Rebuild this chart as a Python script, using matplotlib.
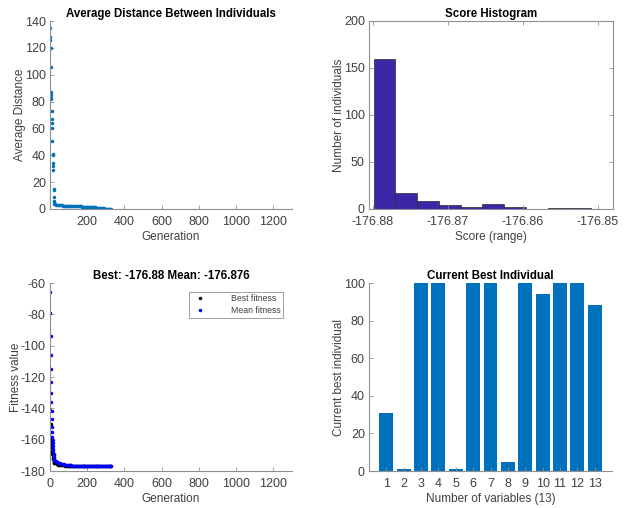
import numpy as np
import matplotlib
matplotlib.use('Agg')
import matplotlib.pyplot as plt

plt.rcParams['font.family'] = ['Liberation Sans', 'DejaVu Sans']
plt.rcParams['axes.unicode_minus'] = False

# --- Average distance between individuals ---
dist_gen_early = list(range(1, 26))
dist_early = [135, 128, 126, 120, 106, 87, 85, 83, 82, 73, 67, 64, 60, 51, 41,
              40, 34, 32, 29, 15, 14, 9, 6, 5, 4]
dist_gen_tail = list(range(30, 331, 5))
dist_tail = [3.5, 3.3, 3.1, 3.0, 2.9, 2.8, 2.8, 2.7, 2.6, 2.6,
             2.5, 2.5, 2.4, 2.4, 2.4, 2.3, 2.3, 2.3, 2.2, 2.2,
             2.2, 2.1, 2.1, 2.0, 2.0, 2.0, 1.9, 1.9, 1.9, 1.8,
             1.8, 1.8, 1.7, 1.7, 1.7, 1.6, 1.6, 1.5, 1.5, 1.4,
             1.4, 1.3, 1.2, 1.2, 1.1, 1.0, 0.9, 0.8, 0.7, 0.6,
             0.5, 0.4, 0.4, 0.3, 0.3, 0.2, 0.2, 0.1, 0.1, 0.1, 0.0]

# --- Score histogram ---
score_edges = [-176.8799, -176.8770, -176.8741, -176.8712, -176.8683, -176.8654,
               -176.8625, -176.8596, -176.8567, -176.8538, -176.8509]
score_counts = [160, 17, 8, 4, 2, 5, 2, 0, 1, 1]

# --- Fitness ---
fit_gen_early = list(range(1, 26))
mean_early = [-66, -79, -94, -106, -115, -123, -130, -136, -142, -147, -152, -155,
              -158, -160, -162, -164, -166, -167.5, -169, -170, -171, -172,
              -172.5, -173, -173.3]
best_early = [-130, -141, -150, -155, -158, -160, -161, -162.5, -164, -165.5, -167,
              -168, -169, -170, -170.5, -171.5, -172, -172.5, -173, -173.5, -174,
              -174.3, -174.6, -174.8, -175]
fit_gen_tail = list(range(30, 331, 5))
mean_tail = [-173.6, -174.0, -174.3, -174.6, -174.9, -175.1, -175.3, -175.5, -175.6, -175.8,
             -175.9, -176.0, -176.1, -176.2, -176.3, -176.3, -176.4, -176.4, -176.5, -176.5,
             -176.6, -176.6, -176.6, -176.7, -176.7, -176.7, -176.7, -176.75, -176.75, -176.78,
             -176.78, -176.8, -176.8, -176.8, -176.81, -176.81, -176.82, -176.82, -176.83, -176.83,
             -176.84, -176.84, -176.84, -176.85, -176.85, -176.85, -176.86, -176.86, -176.86, -176.86,
             -176.87, -176.87, -176.87, -176.87, -176.87, -176.875, -176.875, -176.875, -176.876, -176.876, -176.876]
best_tail = [-175.2, -175.5, -175.7, -175.9, -176.0, -176.1, -176.2, -176.3, -176.4, -176.4,
             -176.5, -176.5, -176.6, -176.6, -176.6, -176.7, -176.7, -176.7, -176.7, -176.75,
             -176.75, -176.78, -176.78, -176.8, -176.8, -176.8, -176.81, -176.82, -176.82, -176.83,
             -176.83, -176.84, -176.84, -176.85, -176.85, -176.85, -176.86, -176.86, -176.86, -176.86,
             -176.87, -176.87, -176.87, -176.87, -176.87, -176.875, -176.875, -176.875, -176.878, -176.878,
             -176.878, -176.879, -176.879, -176.879, -176.88, -176.88, -176.88, -176.88, -176.88, -176.88, -176.88]

# --- Current best individual ---
var_idx = list(range(1, 14))
best_indiv = [31, 1, 100, 100, 1, 100, 100, 5, 100, 94, 100, 100, 88.5]

txt = '#404040'
spine = '#909090'
W, H = 631, 508
TICK = 9
LAB = 8.5
TITLE = 8.3


def rect(l, r, t, b):
    return [l / W, 1 - b / H, (r - l) / W, (b - t) / H]


def style(ax, box=False):
    for s in ['left', 'bottom', 'top', 'right']:
        ax.spines[s].set_color(spine)
        ax.spines[s].set_linewidth(0.8)
    if not box:
        ax.spines['top'].set_visible(False)
        ax.spines['right'].set_visible(False)
    ax.tick_params(direction='in', length=3, width=0.6, colors=spine,
                   labelcolor=txt, labelsize=TICK, top=box, right=box)
    ax.tick_params(axis='x', pad=5)
    ax.tick_params(axis='y', pad=3)


def labels(ax, title, xl, yl):
    ax.set_title(title, fontsize=TITLE, fontweight='bold', pad=3)
    ax.set_xlabel(xl, fontsize=LAB, color=txt, labelpad=2)
    ax.set_ylabel(yl, fontsize=LAB, color=txt, labelpad=-1)


fig = plt.figure(figsize=(6.31, 5.08), dpi=100)

# top-left
ax1 = fig.add_axes(rect(50, 292, 21, 209))
ax1.plot(dist_gen_early + dist_gen_tail, dist_early + dist_tail, '.',
         color='#0072BD', markersize=3)
ax1.set_xlim(1, 1300)
ax1.set_ylim(0, 140)
ax1.set_xticks([200, 400, 600, 800, 1000, 1200])
ax1.set_yticks(range(0, 141, 20))
labels(ax1, 'Average Distance Between Individuals', 'Generation', 'Average Distance')
style(ax1)

# top-right
ax2 = fig.add_axes(rect(369, 613, 21, 209))
ax2.hist(score_edges[:-1], bins=score_edges, weights=score_counts,
         color='#3e26a8', edgecolor='#2a2a2a', linewidth=0.5)
ax2.set_xlim(-176.8805, -176.848)
ax2.set_ylim(0, 200)
ax2.set_xticks([-176.88, -176.87, -176.86, -176.85])
ax2.set_xticklabels(['-176.88', '-176.87', '-176.86', '-176.85'])
ax2.set_yticks([0, 50, 100, 150, 200])
labels(ax2, 'Score Histogram', 'Score (range)', 'Number of individuals')
style(ax2, box=True)

# bottom-left
ax3 = fig.add_axes(rect(50, 292, 283, 471))
ax3.plot(fit_gen_early + fit_gen_tail, best_early + best_tail, '.',
         color='black', markersize=3, label='Best fitness')
ax3.plot(fit_gen_early + fit_gen_tail, mean_early + mean_tail, '.',
         color='blue', markersize=3, label='Mean fitness')
ax3.set_xlim(0, 1300)
ax3.set_ylim(-180, -60)
ax3.set_xticks(range(0, 1201, 200))
ax3.set_yticks(range(-180, -59, 20))
labels(ax3, 'Best: -176.88 Mean: -176.876', 'Generation', 'Fitness value')
style(ax3)
leg = ax3.legend(loc='upper right', fontsize=6.3, fancybox=False, framealpha=1,
                 borderaxespad=1.0, handletextpad=2.5, markerscale=1.0,
                 borderpad=0.3, labelspacing=0.3)
leg.get_frame().set_edgecolor(spine)
leg.get_frame().set_linewidth(0.6)
for t in leg.get_texts():
    t.set_color(txt)

# bottom-right
ax4 = fig.add_axes(rect(369, 612, 283, 471))
ax4.bar(var_idx, best_indiv, width=0.8, color='#0072BD')
ax4.set_xlim(0, 14)
ax4.set_ylim(0, 100)
ax4.set_xticks(var_idx)
ax4.set_yticks(range(0, 101, 20))
labels(ax4, 'Current Best Individual', 'Number of variables (13)', 'Current best individual')
style(ax4)

fig.savefig('out.png', dpi=100)
